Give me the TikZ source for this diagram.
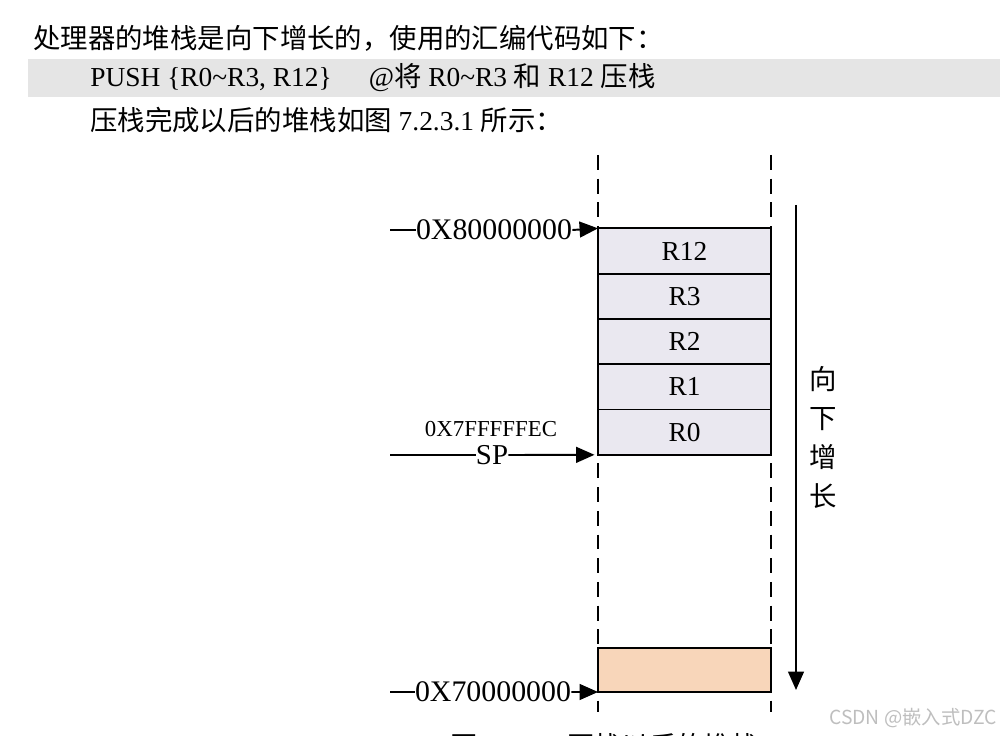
\documentclass[tikz,border=0pt]{standalone}
\usepackage{fontspec}
\setmainfont{Liberation Serif}
\newfontfamily\cjk{Noto Sans CJK SC}
\usepackage{xcolor}
\usetikzlibrary{arrows.meta, positioning}

\definecolor{cellfill}{RGB}{234,232,240}
\definecolor{basefill}{RGB}{248,214,186}
\definecolor{codeband}{RGB}{229,229,229}
\definecolor{markgray}{RGB}{190,190,190}

\begin{document}
\begin{tikzpicture}[
    x=0.02cm, y=-0.02cm,
    body/.style   = {inner sep=0pt, anchor=west, font=\fontsize{15.6}{18}\selectfont},
    cell/.style   = {rectangle, draw, line width=1.1pt, fill=cellfill, outer sep=0pt,
                     minimum width=3.46cm, minimum height=0.906cm, inner sep=0pt,
                     font=\fontsize{15.6}{18}\selectfont},
    addr/.style   = {inner sep=0pt, font=\fontsize{17}{20}\selectfont},
    guide/.style  = {dash pattern=on 8.5pt off 5pt, line width=1.1pt},
    plain/.style  = {line width=1.1pt},
    arrow/.style  = {-{Triangle[length=10.5pt, width=9pt]}, line width=1.1pt}
]
\useasboundingbox (0,0) rectangle (1000,736);

% ========= text above the figure =========
\fill[codeband] (28,59) rectangle (1000,97);
\node[body] (intro) at (33,38)
    {\cjk 处理器的堆栈是向下增长的，使用的汇编代码如下：};
\node[body] (code) at (90,78)
    {PUSH \{R0\textasciitilde R3, R12\}\hspace{1.35em}@{\cjk 将} R0\textasciitilde R3 {\cjk 和} R12 {\cjk 压栈}};
\node[body] (after) at (90,120)
    {{\cjk 压栈完成以后的堆栈如图} 7.2.3.1 {\cjk 所示：}};

% ========= stack cells =========
\node[cell]                   (r12)  at (684.5,251) {R12};
\node[cell, below=0pt of r12] (r3)   {R3};
\node[cell, below=0pt of r3]  (r2)   {R2};
\node[cell, below=0pt of r2]  (r1)   {R1};
\node[cell, below=0pt of r1]  (r0)   {R0};
\node[cell, fill=basefill, minimum height=0.88cm] (base) at (684.5,670) {};

% stack borders
\draw[guide] (598,155) -- (598,712);
\draw[guide] (771,155) -- (771,712);

% ========= addresses =========
\coordinate (top80) at (390,230);
\node[addr] (addr80) at (494,230) {0X80000000};
\draw[plain] (top80) -- (addr80.west);
\draw[arrow] (addr80.east) -- (r12.north west);

\coordinate (spin) at (390,455);
\node[inner sep=0pt, font=\fontsize{16.4}{19}\selectfont] (sp) at (492,455) {SP};
\node[inner sep=0pt, font=\fontsize{13}{15}\selectfont]   (spaddr) at (491,429) {0X7FFFFFEC};
\draw[plain] (spin) -- (sp.west);
\draw[arrow] (sp.east) -- ([xshift=-2pt]r0.south west);

\coordinate (bot70) at (390,692);
\node[addr] (addr70) at (493,692) {0X70000000};
\draw[plain] (bot70) -- (addr70.west);
\draw[arrow] (addr70.east) -- (base.south west);

% ========= growth direction =========
\coordinate (growtop) at (796,205);
\coordinate (growend) at (796,690);
\draw[arrow] (growtop) -- (growend);
\node[inner sep=0pt, align=center, font=\fontsize{15.6}{22.2}\selectfont\cjk] (grow) at (823,437)
    {向\\下\\增\\长};

% ========= caption (cut by the page edge) and mark =========
\node[body] (caption) at (450,746) {{\cjk 图} 7.2.3.1 {\cjk 压栈以后的堆栈}};
\node[inner sep=0pt, font=\fontsize{11}{13}\selectfont\cjk, text=markgray] (mark) at (913,718)
    {CSDN @嵌入式DZC};
\end{tikzpicture}
\end{document}
